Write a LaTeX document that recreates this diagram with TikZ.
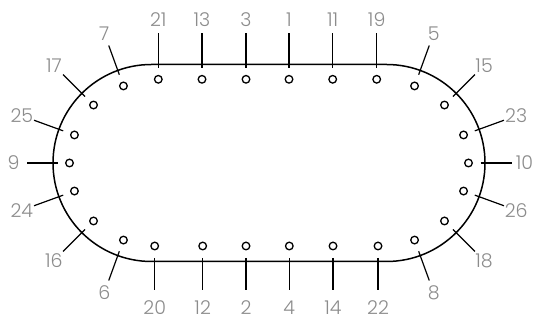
\documentclass[tikz,border=0pt]{standalone}
\usepackage{fontspec}
\setmainfont{Poppins}[UprightFont=* Light]
\begin{document}
\begin{tikzpicture}[x=1pt,y=1pt,
  outline/.style={line width=1.5pt,black},
  tickln/.style={line width=1.2pt,black},
  pin/.style={line width=1.3pt,black},
  lbl/.style={text=black!45,font=\fontsize{19}{21}\selectfont,inner sep=0pt}]
\useasboundingbox (0,0) rectangle (540,320);
\coordinate (L) at (151.5,157);
\coordinate (R) at (386.5,157);
% stadium outline
\draw[outline] (151.5,255.5) -- (386.5,255.5) arc[start angle=90,end angle=-90,radius=98.5]
  -- (151.5,58.5) arc[start angle=270,end angle=90,radius=98.5] -- cycle;
% top side
\foreach \x/\t in {158.3/21,202/13,246/3,289/1,332.7/11,376.7/19}{
  \draw[tickln] (\x,252) -- (\x,286.7);
  \draw[pin] (\x,240.7) circle (3.8);
  \node[lbl] (n\t) at (\x,300) {\t};
}
% bottom side
\foreach \x/\t in {154.7/20,202.7/12,246/2,289.3/4,333/14,378/22}{
  \draw[tickln] (\x,62) -- (\x,30);
  \draw[pin] (\x,74) circle (3.8);
  \node[lbl] (n\t) at (\x,12.5) {\t};
}
% left arc
\foreach \a/\t in {110/7,135/17,160/25,180/9,200/24,225/16,250/6}{
  \draw[tickln] ([shift={(L)}]\a:94) -- ([shift={(L)}]\a:125);
  \draw[pin] ([shift={(L)}]\a:82) circle (3.8);
  \node[lbl] (n\t) at ([shift={(L)}]\a:138) {\t};
}
% right arc
\foreach \a/\t in {70/5,45/15,20/23,0/10,-20/26,-45/18,-70/8}{
  \draw[tickln] ([shift={(R)}]\a:94) -- ([shift={(R)}]\a:125);
  \draw[pin] ([shift={(R)}]\a:82) circle (3.8);
  \node[lbl] (n\t) at ([shift={(R)}]\a:138) {\t};
}
\end{tikzpicture}
\end{document}
